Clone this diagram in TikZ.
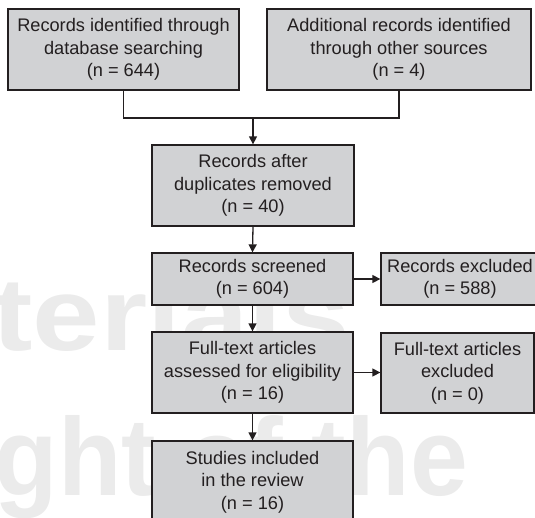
\documentclass[tikz,border=0pt]{standalone}
\usepackage{graphicx}
\usepackage{fontspec}
\setmainfont{Liberation Sans}
\usetikzlibrary{arrows.meta}
\definecolor{boxfill}{RGB}{209,210,212}
\definecolor{ink}{RGB}{35,31,32}
\definecolor{wm}{RGB}{235,235,235}
\tikzset{
  box/.style={draw=ink, line width=1.3pt, fill=boxfill, text=ink, align=center,
    inner sep=0pt, font=\fontsize{18.2}{22.5}\selectfont},
  conn/.style={draw=ink, line width=1.3pt},
  arr/.style={conn, -{Triangle[length=8pt,width=8pt]}},
  wmark/.style={anchor=base east, inner sep=0pt, text=wm, font=\bfseries}
}
\begin{document}
\begin{tikzpicture}[x=1pt,y=-1pt]
\path[use as bounding box] (0,0) rectangle (535,517);
\clip (0,0) rectangle (535,517);
% faint watermark
\node[wmark] (wm1) at (350,350) {\resizebox{357pt}{75pt}{terials}};
\node[wmark] (wm2) at (468,495) {\resizebox{473pt}{80pt}{ght of the}};
% boxes
\node[box, minimum width=231pt, minimum height=81pt] (A) at (123.5,49.5)
  {Records identified through\\database searching\\(n = 644)};
\node[box, minimum width=264pt, minimum height=81pt] (B) at (399,49.5)
  {Additional records identified\\through other sources\\(n = 4)};
\node[box, minimum width=202pt, minimum height=81pt] (C) at (253,185.5)
  {Records after\\duplicates removed\\(n = 40)};
\node[box, minimum width=201pt, minimum height=52pt] (D) at (252.5,279)
  {Records screened\\(n = 604)};
\node[box, minimum width=158pt, minimum height=52pt] (E) at (460,279)
  {Records excluded\\(n = 588)};
\node[box, minimum width=201pt, minimum height=81pt] (F) at (252.5,372.5)
  {Full-text articles\\assessed for eligibility\\(n = 16)};
\node[box, minimum width=153pt, minimum height=80pt] (G) at (457.5,373)
  {Full-text articles\\excluded\\(n = 0)};
\node[box, minimum width=201pt, minimum height=82pt] (H) at (252.5,482)
  {Studies included\\in the review\\(n = 16)};
% connectors
\coordinate (j) at (253,118);
\draw[conn] (A.south) |- (j) -| (B.south);
\draw[arr] (j) -- (C.north);
\draw[arr] (C.south) -- (D.north);
\draw[arr] (D.south) -- (F.north);
\draw[arr] (F.south) -- (H.north);
\draw[arr] (D.east) -- (E.west);
\draw[arr] (F.east) -- (F.east -| G.west);
\end{tikzpicture}
\end{document}
